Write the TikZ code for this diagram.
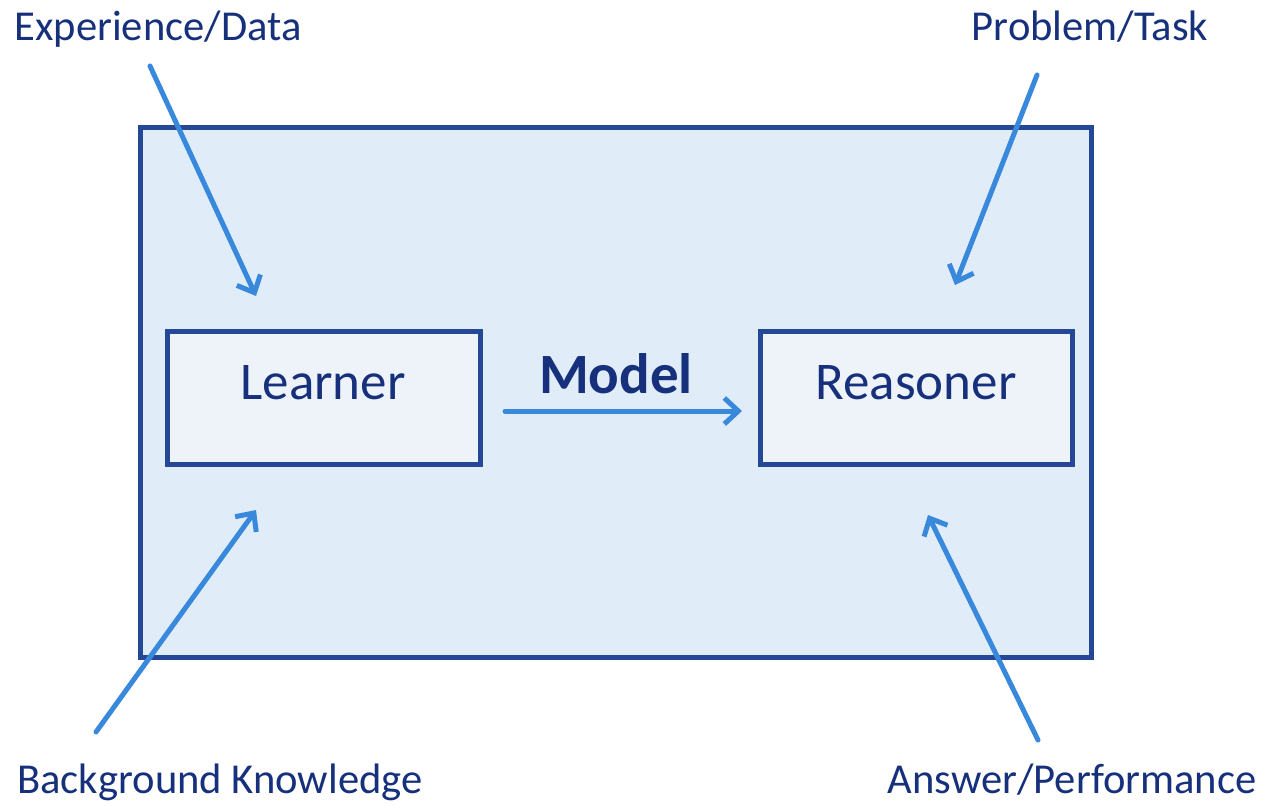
\documentclass[tikz,border=0pt]{standalone}
\usepackage{fontspec}
\setmainfont{Carlito}
\usetikzlibrary{arrows.meta}
\definecolor{boxline}{RGB}{36,72,150}
\definecolor{outerfill}{RGB}{224,236,248}
\definecolor{innerfill}{RGB}{238,243,250}
\definecolor{txt}{RGB}{22,48,124}
\definecolor{arr}{RGB}{56,136,220}
\tikzset{
  outerbox/.style={draw=boxline, fill=outerfill, line width=2.5pt},
  innerbox/.style={draw=boxline, fill=innerfill, line width=2.5pt},
  lbl/.style={text=txt, font=\fontsize{21.3}{25}\selectfont, anchor=base, inner sep=0pt},
  boxlbl/.style={text=txt, font=\fontsize{26.5}{30}\selectfont, anchor=base, inner sep=0pt},
  feed/.style={draw=arr, line width=2.5pt, line cap=round, -{Straight Barb[length=7pt,width=13pt,line width=2.5pt]}}
}
\begin{document}
\begin{tikzpicture}[x=0.5pt,y=-0.5pt]
\useasboundingbox (0,0) rectangle (1278,805);
\draw[outerbox] (140,127) rectangle (1091,657);
\draw[innerbox] (167,331) rectangle (480,464);
\draw[innerbox] (760,331) rectangle (1072,464);
\node[boxlbl] (learner) at (323,399) {Learner};
\node[boxlbl] (reasoner) at (916,399) {Reasoner};
\node[boxlbl, font=\fontsize{28.5}{33}\selectfont\bfseries] (model) at (616,393) {Model};
\node[lbl] (exp) at (158,40) {Experience/Data};
\node[lbl] (prob) at (1090,40) {Problem/Task};
\node[lbl] (bg) at (220,793) {Background Knowledge};
\node[lbl] (ans) at (1072,793) {Answer/Performance};
\coordinate (e1) at (150,66);  \coordinate (e2) at (256,296);
\coordinate (p1) at (1037,75); \coordinate (p2) at (955,285);
\coordinate (b1) at (96,732);  \coordinate (b2) at (256,510);
\coordinate (a1) at (1038,740); \coordinate (a2) at (928,515);
\coordinate (m1) at (505,411); \coordinate (m2) at (742,411);
\draw[feed] (e1) -- (e2);
\draw[feed] (p1) -- (p2);
\draw[feed] (b1) -- (b2);
\draw[feed] (a1) -- (a2);
\draw[feed] (m1) -- (m2);
\end{tikzpicture}
\end{document}
